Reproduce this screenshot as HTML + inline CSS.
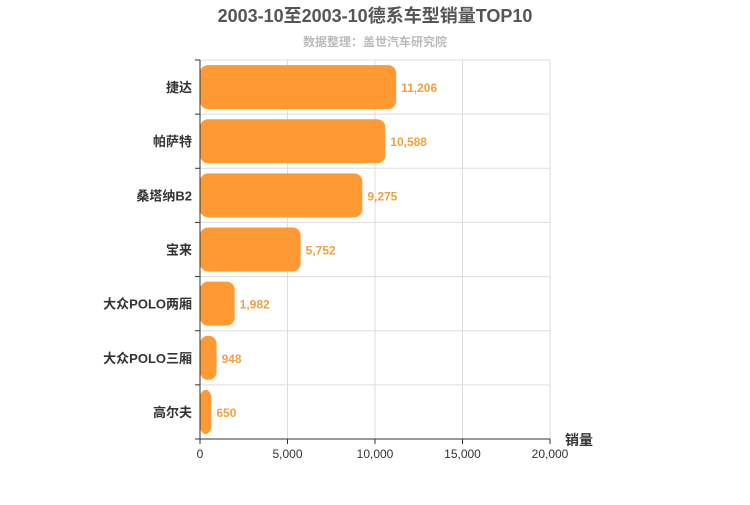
<!DOCTYPE html>
<html><head><meta charset="utf-8"><style>
body{margin:0;background:#fff;}
svg text{font-family:"Liberation Sans","Noto Sans CJK SC",sans-serif;}
</style></head><body>
<svg id="c" width="750" height="500" xmlns="http://www.w3.org/2000/svg">
<text x="375" y="22" text-anchor="middle" font-size="18" font-weight="bold" fill="#555">2003-10至2003-10德系车型销量TOP10</text>
<text x="375" y="46" text-anchor="middle" font-size="12" font-weight="bold" fill="#bbb">数据整理：盖世汽车研究院</text>
<g id="grid"></g><g id="bars"></g><g id="axis"></g>
<text x="565" y="445" font-size="14" font-weight="bold" fill="#333">销量</text>
</svg>
<script>
const categories=["捷达","帕萨特","桑塔纳B2","宝来","大众POLO两厢","大众POLO三厢","高尔夫"];
const values=[11206,10588,9275,5752,1982,948,650];
const ticks=[0,5000,10000,15000,20000];
const tickLabels=["0","5,000","10,000","15,000","20,000"];
const NS="http://www.w3.org/2000/svg";
const x0=200,x1=550,y0=60,y1=439,xmax=20000;
const xs=v=>x0+(v/xmax)*(x1-x0);
const band=(y1-y0)/categories.length;
const ys=i=>y0+i*band;
function mk(t,a,p){const e=document.createElementNS(NS,t);for(const k in a)e.setAttribute(k,a[k]);p.appendChild(e);return e;}
const g=document.getElementById('grid'),b=document.getElementById('bars'),ax=document.getElementById('axis');
ticks.forEach((t,i)=>{
 const l=mk('line',{x1:xs(t),x2:xs(t),y1:y0,y2:y1,stroke:'#ddd'},g);
 
 
 const tk=mk('line',{x1:xs(t),x2:xs(t),y1:y1,y2:y1+5,stroke:'#333'},ax);
 
 
 const tx=mk('text',{x:xs(t),y:y1+19,'text-anchor':'middle','font-size':12,fill:'#333'},ax);
 tx.textContent=tickLabels[i];
 
 
});
for(let i=0;i<=categories.length;i++){
 const l=mk('line',{x1:x0,x2:x1,y1:ys(i),y2:ys(i),stroke:'#ddd'},g);
 
 
}
categories.forEach((c,i)=>{
 const cy=ys(i)+band/2;
 const r=mk('rect',{x:x0,y:cy-22,width:xs(values[i])-x0,height:44,rx:8,fill:'#ff9933'},b);
 
 
 const v=mk('text',{x:xs(values[i])+5,y:cy+5,'font-size':12,'font-weight':'bold',fill:'#f0a040'},b);
 v.textContent=values[i].toLocaleString('en-US');
 
 
 const tk=mk('line',{x1:x0-5,x2:x0,y1:ys(i),y2:ys(i),stroke:'#333'},ax);
 
 
 const t=mk('text',{x:x0-8,y:cy+5,'text-anchor':'end','font-size':13,'font-weight':'bold',fill:'#333'},ax);
 t.textContent=c;
 
 
});
const tkb=mk('line',{x1:x0-5,x2:x0,y1:y1,y2:y1,stroke:'#333'},ax);


const ya=mk('line',{x1:x0,x2:x0,y1:y0,y2:y1,stroke:'#333'},ax);


const xa=mk('line',{x1:x0,x2:x1,y1:y1,y2:y1,stroke:'#333'},ax);


</script>
</body></html>
